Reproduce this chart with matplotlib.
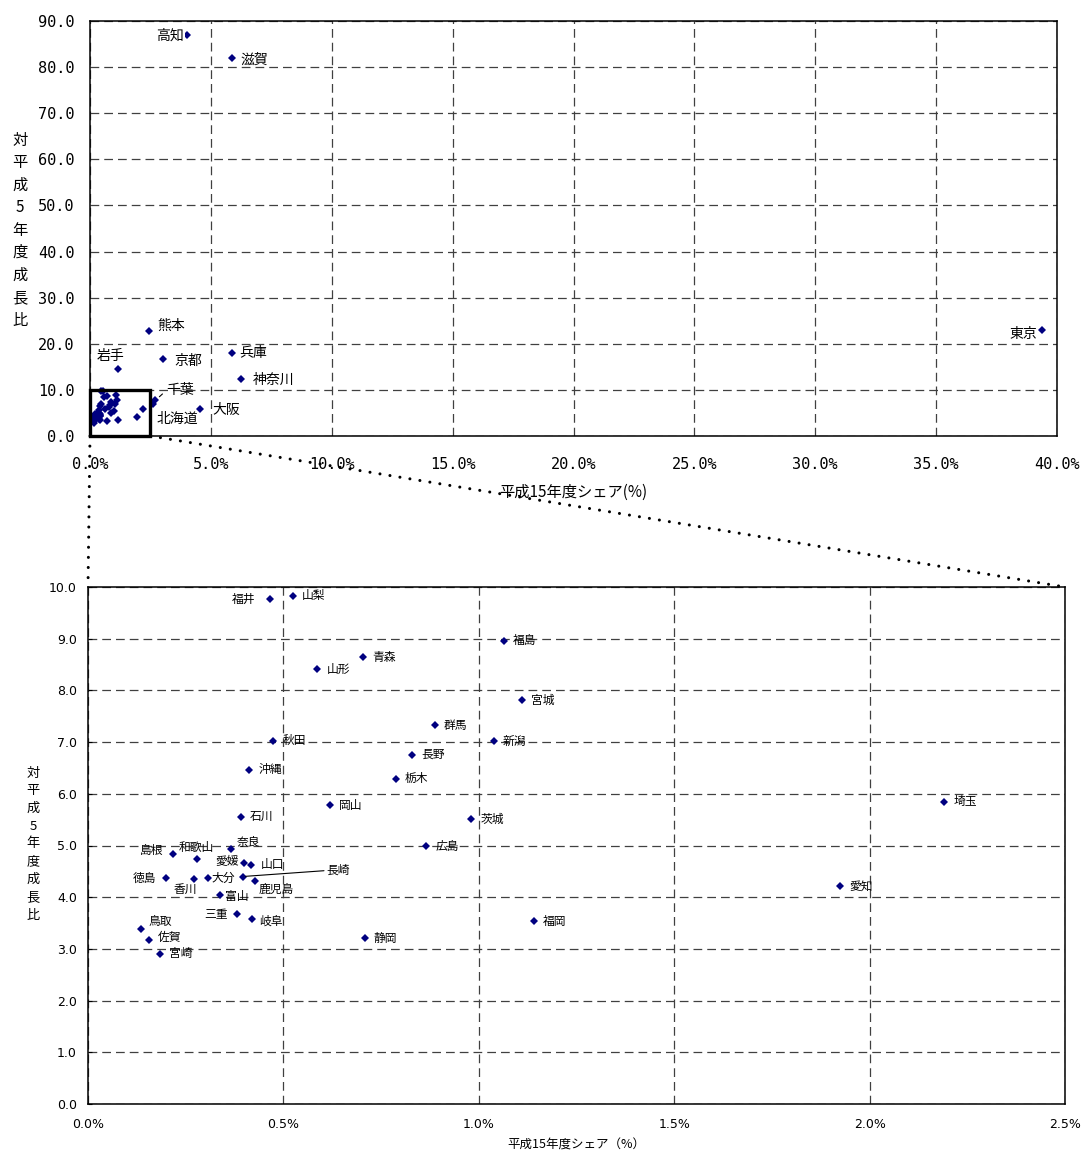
import matplotlib
matplotlib.use('Agg')
import matplotlib.pyplot as plt
from matplotlib.patches import Rectangle, ConnectionPatch

plt.rcParams['font.family'] = ['Noto Sans CJK JP', 'DejaVu Sans']

# 都道府県ごとの 平成15年度シェア(%) と 対平成5年度成長比
prefs = ['福井', '山梨', '青森', '山形', '群馬', '秋田', '長野', '沖縄', '栃木', '岡山',
         '石川', '福島', '宮城', '新潟', '茨城', '広島', '福岡', '静岡', '埼玉', '愛知',
         '島根', '和歌山', '奈良', '愛媛', '山口', '徳島', '香川', '大分', '長崎', '鹿児島',
         '富山', '三重', '岐阜', '鳥取', '佐賀', '宮崎',
         '高知', '滋賀', '熊本', '岩手', '京都', '兵庫', '神奈川', '千葉', '北海道', '大阪', '東京']
share = [0.466, 0.525, 0.704, 0.587, 0.888, 0.474, 0.829, 0.413, 0.788, 0.618,
         0.391, 1.064, 1.111, 1.038, 0.981, 0.866, 1.140, 0.708, 2.191, 1.924,
         0.218, 0.278, 0.366, 0.399, 0.418, 0.200, 0.270, 0.306, 0.396, 0.427,
         0.339, 0.380, 0.419, 0.135, 0.157, 0.185,
         4.01, 5.86, 2.44, 1.17, 3.01, 5.86, 6.23, 2.70, 2.62, 4.55, 39.4]
growth = [9.76, 9.83, 8.64, 8.41, 7.33, 7.03, 6.76, 6.47, 6.29, 5.78,
          5.56, 8.96, 7.81, 7.02, 5.51, 4.99, 3.53, 3.21, 5.85, 4.22,
          4.84, 4.74, 4.93, 4.67, 4.62, 4.37, 4.36, 4.37, 4.40, 4.31,
          4.04, 3.67, 3.57, 3.38, 3.17, 2.91,
          86.9, 81.9, 22.7, 14.5, 16.6, 18.1, 12.3, 7.7, 7.0, 5.9, 22.9]

top_only = ['高知', '滋賀', '熊本', '岩手', '京都', '兵庫', '神奈川', '千葉', '北海道', '大阪', '東京']

# ラベルの位置 (px: dx, dy, ha)
top_lbl = {'高知': (-3, 0, 'right'), '滋賀': (9, -1, 'left'), '熊本': (8, 5, 'left'),
           '岩手': (-8, 13, 'center'), '京都': (12, -1, 'left'), '兵庫': (8, 0, 'left'),
           '神奈川': (12, -1, 'left'), '千葉': (11, 10, 'left'), '北海道': (3, -15, 'left'),
           '大阪': (12, -1, 'left'), '東京': (-5, -4, 'right')}
bot_lbl = {'福井': (-15, 0, 'right'), '島根': (-10, 3, 'right'), '和歌山': (0, 11, 'center'),
           '奈良': (17, 7, 'center'), '愛媛': (-5, 1, 'right'), '山口': (9, 1, 'left'),
           '徳島': (-10, 0, 'right'), '香川': (-8, -11, 'center'), '大分': (4, 0, 'left'),
           '鹿児島': (21, -8, 'center'), '富山': (5, -1, 'left'), '三重': (-9, 0, 'right'),
           '岐阜': (7, -2, 'left'), '鳥取': (8, 8, 'left'), '佐賀': (8, 3, 'left'),
           '長崎': (84, 6, 'left')}

W, H = 1084, 1156
navy = '#000080'
fig = plt.figure(figsize=(W / 100, H / 100), dpi=100)
ax1 = fig.add_axes([90 / W, 1 - 436 / H, (1057 - 90) / W, (436 - 21) / H])
ax2 = fig.add_axes([88 / W, 1 - 1104 / H, (1065 - 88) / W, (1104 - 587) / H])

grid_kw = dict(color='#404040', lw=0.9, linestyle=(0, (7, 4)))

# 上のグラフ
ax1.plot(share, growth, 'D', color=navy, ms=4.5, mew=0, zorder=3)
ax1.set_xlim(0, 40)
ax1.set_ylim(0, 90)
ax1.set_xticks(range(0, 41, 5))
ax1.set_yticks(range(0, 91, 10))
ax1.set_xticklabels(['%.1f%%' % v for v in range(0, 41, 5)], family='DejaVu Sans Mono', fontsize=11)
ax1.set_yticklabels(['%.1f' % v for v in range(0, 91, 10)], family='DejaVu Sans Mono', fontsize=11)
ax1.tick_params(length=0)
ax1.tick_params(axis='x', pad=15)
ax1.tick_params(axis='y', pad=11)
ax1.grid(True, **grid_kw)
for s in ax1.spines.values():
    s.set_linewidth(1.1)
ax1.add_patch(Rectangle((0, 0), 2.5, 10, fill=False, lw=2.4, ec='black', zorder=4, clip_on=False))

for name, x, y in zip(prefs, share, growth):
    if name in top_lbl:
        dx, dy, ha = top_lbl[name]
        kw = {}
        if name == '高知':
            kw['bbox'] = dict(boxstyle='square,pad=0.1', fc='white', ec='none')
        if name == '千葉':
            kw['arrowprops'] = dict(arrowstyle='-', lw=0.8, color='black', relpos=(0, 0.5),
                                    shrinkA=1, shrinkB=4)
        ax1.annotate(name, (x, y), xytext=(dx * 0.72, dy * 0.72), textcoords='offset points',
                     ha=ha, va='center', fontsize=10, zorder=5, **kw)

# 下のグラフ
ax2.plot(share, growth, 'D', color=navy, ms=4.5, mew=0, zorder=3)
ax2.set_xlim(0, 2.5)
ax2.set_ylim(0, 10)
xt = [0, 0.5, 1.0, 1.5, 2.0, 2.5]
ax2.set_xticks(xt)
ax2.set_yticks(range(0, 11))
nar = ['Liberation Sans Narrow', 'DejaVu Sans']
ax2.set_xticklabels(['%.1f%%' % v for v in xt], family=nar, fontsize=9)
ax2.set_yticklabels(['%.1f' % v for v in range(0, 11)], family=nar, fontsize=9)
ax2.tick_params(axis='x', length=0, pad=10)
ax2.tick_params(axis='y', length=3, direction='in', pad=8)
ax2.grid(True, **grid_kw)
for s in ax2.spines.values():
    s.set_linewidth(1.1)

for name, x, y in zip(prefs, share, growth):
    if name in top_only:
        continue
    dx, dy, ha = bot_lbl.get(name, (9, 0, 'left'))
    kw = {}
    if name == '長崎':
        kw['arrowprops'] = dict(arrowstyle='-', lw=0.8, color='black', relpos=(0, 0.5),
                                shrinkA=0, shrinkB=2)
    ax2.annotate(name, (x, y), xytext=(dx * 0.72, dy * 0.72), textcoords='offset points',
                 ha=ha, va='center', fontsize=8.5, zorder=5, **kw)

# 拡大部分をつなぐ点線
for xa in (0, 2.5):
    cp = ConnectionPatch(xyA=(xa, 0), coordsA=ax1.transData, xyB=(xa, 10), coordsB=ax2.transData,
                         lw=2.2, ls=(0, (0.01, 3.3)), capstyle='round', color='black')
    fig.add_artist(cp)

# 軸タイトル
fig.text(573 / W, 1 - 492 / H, '平成15年度シェア(%)', ha='center', va='center', fontsize=11)
fig.text(576 / W, 1 - 1145 / H, '平成15年度シェア（%）', ha='center', va='center', fontsize=9)
ylab = '対平成5年度成長比'
for i, ch in enumerate(ylab):
    fig.text(20 / W, 1 - (140 + i * 22.5) / H, ch, ha='center', va='center', fontsize=11)
    fig.text(33 / W, 1 - (773 + i * 17.75) / H, ch, ha='center', va='center', fontsize=9.5)

fig.savefig('out.png', dpi=100)
